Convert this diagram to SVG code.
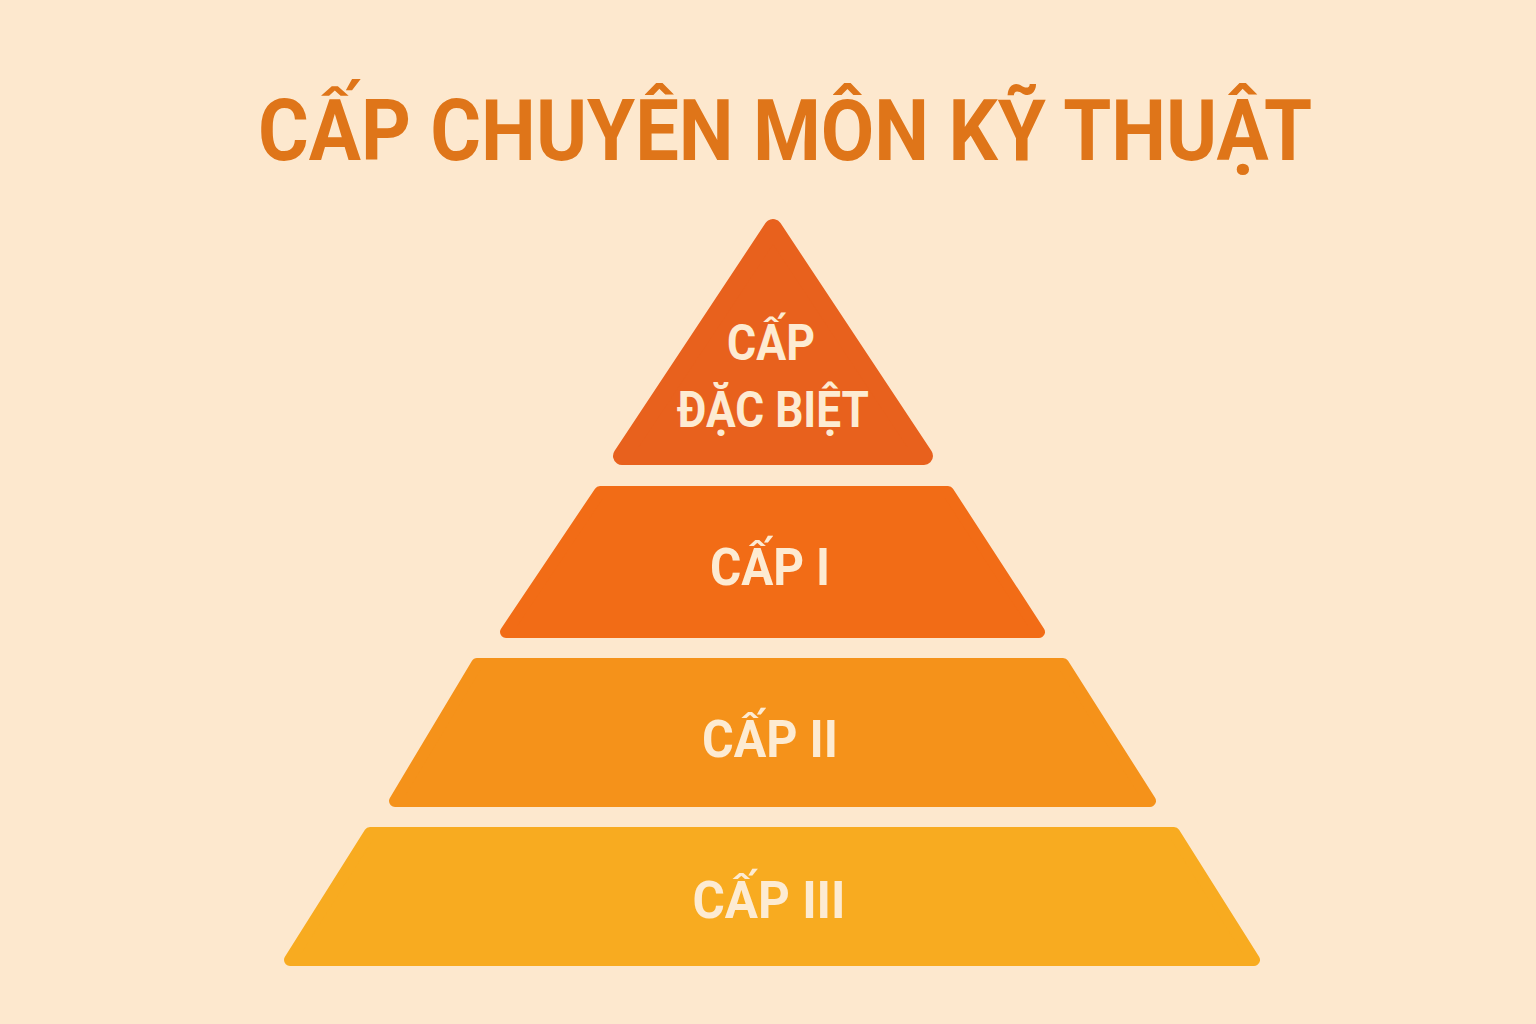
<svg xmlns="http://www.w3.org/2000/svg" width="1536" height="1024" viewBox="0 0 1536 1024">
  <style>
    .title { font-family: Roboto, "Liberation Sans", sans-serif; font-weight: bold; font-size: 86px; fill: #DF7519; }
    .lbl { font-family: Roboto, "Liberation Sans", sans-serif; font-weight: bold; font-size: 52px; fill: #FDEBD2; text-anchor: middle; }
    .tier { stroke-linejoin: round; stroke-width: 12; }
  </style>
  <rect width="1536" height="1024" fill="#FDE8CE"/>
  <g id="title">
    <text class="title" x="258" y="160" textLength="1054" lengthAdjust="spacingAndGlyphs">CẤP CHUYÊN MÔN KỸ THUẬT</text>
  </g>
  <g id="tier-special">
    <polygon class="tier" points="773,228 622,456 924,456" fill="#E8611D" stroke="#E8611D" style="stroke-width:18"/>
    <text class="lbl" x="771" y="360" textLength="88" lengthAdjust="spacingAndGlyphs" style="font-size:50px">CẤP</text>
    <text class="lbl" x="773" y="427" textLength="192" lengthAdjust="spacingAndGlyphs" style="font-size:50px">ĐẶC BIỆT</text>
  </g>
  <g id="tier-1">
    <polygon class="tier" points="600,492 948,492 1039,632 506,632" fill="#F26C16" stroke="#F26C16"/>
    <text class="lbl" x="770" y="585" textLength="120" lengthAdjust="spacingAndGlyphs">CẤP I</text>
  </g>
  <g id="tier-2">
    <polygon class="tier" points="477,664 1063,664 1150,801 395,801" fill="#F5921A" stroke="#F5921A"/>
    <text class="lbl" x="770" y="757" textLength="136" lengthAdjust="spacingAndGlyphs">CẤP II</text>
  </g>
  <g id="tier-3">
    <polygon class="tier" points="370,833 1174,833 1254,960 290,960" fill="#F8AB20" stroke="#F8AB20"/>
    <text class="lbl" x="769" y="918" textLength="153" lengthAdjust="spacingAndGlyphs">CẤP III</text>
  </g>
  <g id="connectors"/>
</svg>
